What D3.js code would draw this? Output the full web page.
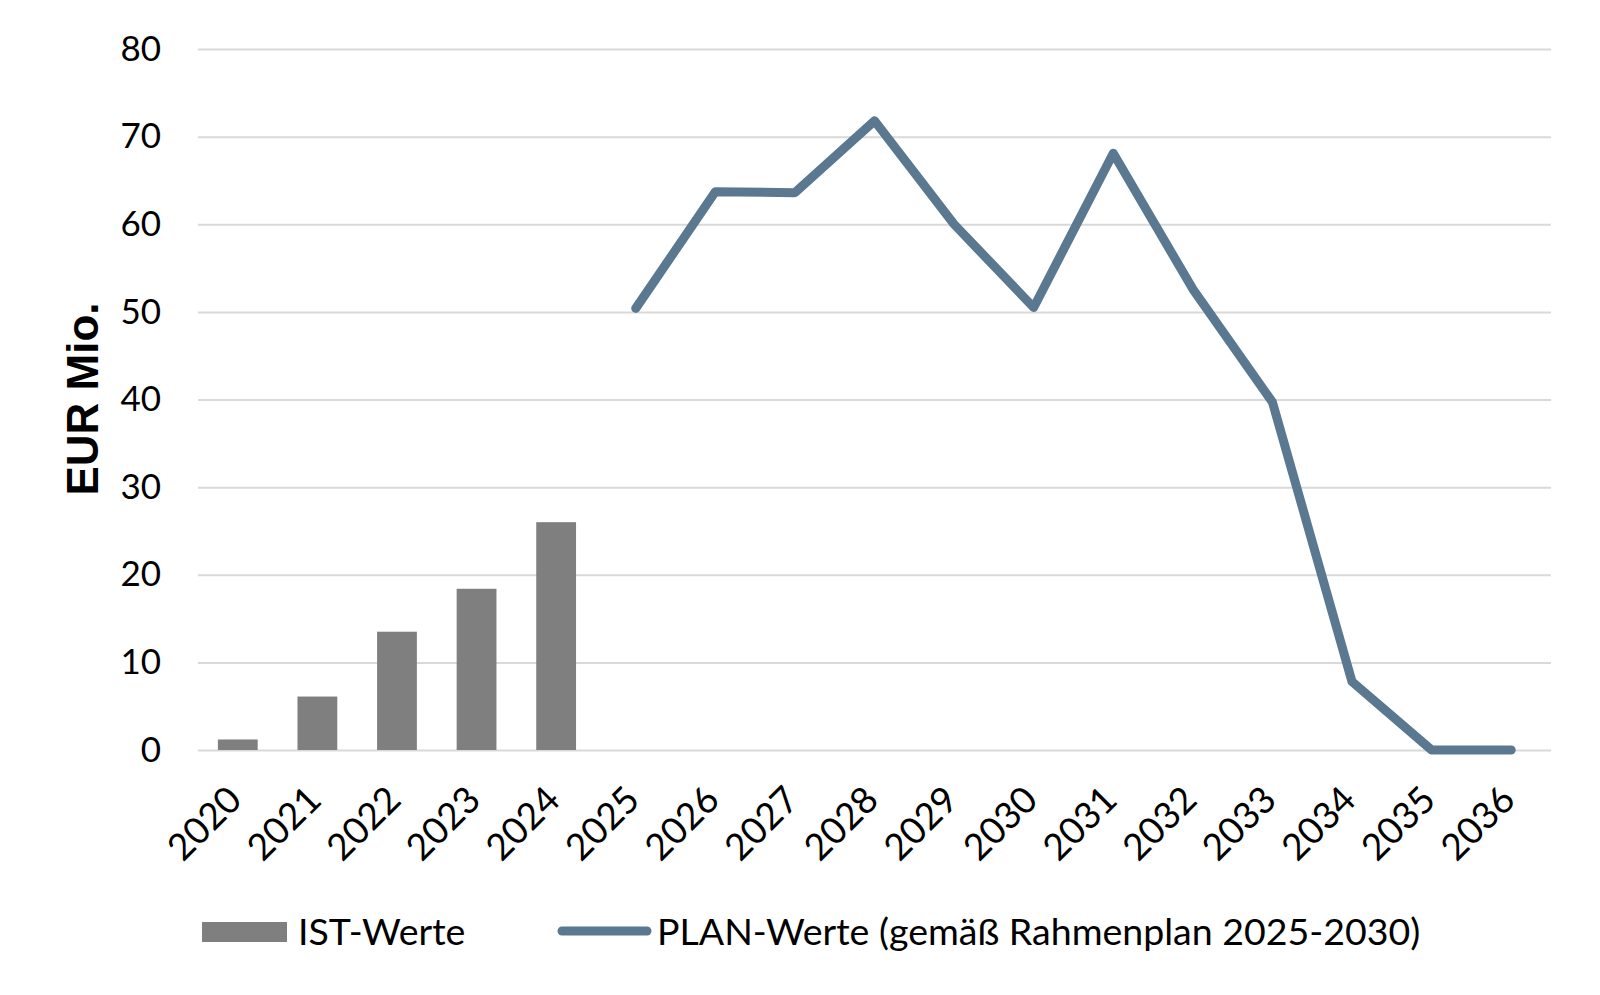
<!DOCTYPE html>
<html>
<head>
<meta charset="utf-8">
<script src="https://cdn.jsdelivr.net/npm/d3@7"></script>
<style>
    body { margin: 0; background: #fff; }
    svg text { font-family: Lato, "Open Sans", sans-serif; fill: #000; }
</style>
</head>
<body>
<div id="chart"></div>
<script>
// categories (x axis)
const years = ['2020', '2021', '2022', '2023', '2024', '2025', '2026', '2027', '2028',
               '2029', '2030', '2031', '2032', '2033', '2034', '2035', '2036']

// IST-Werte (bars)
const istYears = ['2020', '2021', '2022', '2023', '2024']
const istValues = [1.2, 6.1, 13.5, 18.4, 26.0]

// PLAN-Werte (line)
const planYears = ['2025', '2026', '2027', '2028', '2029', '2030',
                   '2031', '2032', '2033', '2034', '2035', '2036']
const planValues = [50.4, 63.7, 63.6, 71.8, 60.0, 50.5, 68.1, 52.6, 39.7, 7.8, 0, 0]

const yTicks = [0, 10, 20, 30, 40, 50, 60, 70, 80]
const legendLabels = ['IST-Werte', 'PLAN-Werte (gemäß Rahmenplan 2025-2030)']

const barColor = '#7f7f7f'
const lineColor = '#5a7890'
const gridColor = '#d9d9d9'

const W = 1600, H = 995
const dim = {l: 198, r: 1551, t: 49, b: 750}

const svg = d3.select('#chart').append('svg')
    .attr('width', W).attr('height', H)

const x = d3.scaleBand().domain(years).range([dim.l, dim.r])
    .paddingInner(0.5).paddingOuter(0.25)
const y = d3.scaleLinear().domain([0, 80]).range([dim.b, dim.t])

// gridlines + y labels
const yAxis = svg.append('g').attr('class', 'y axis')
    .attr('transform', 'translate(' + dim.l + ',0)')
    .call(d3.axisLeft(y).tickValues(yTicks).tickSize(-(dim.r - dim.l)).tickPadding(37))
yAxis.select('.domain').remove()
yAxis.selectAll('.tick line').attr('stroke', gridColor).attr('stroke-width', 2)
yAxis.selectAll('.tick text')
    .attr('font-size', 35).attr('fill', '#000')
    .style('font-family', 'Lato, sans-serif')

// y title
svg.append('text')
    .attr('transform', 'translate(98,399) rotate(-90)')
    .attr('text-anchor', 'middle')
    .attr('font-size', 44).attr('font-weight', 'bold')
    .style('font-family', '"Liberation Sans", Arial, sans-serif')
    .text('EUR Mio.')

// x labels, rotated
const xAxis = svg.append('g').attr('class', 'x axis')
    .attr('transform', 'translate(0,' + dim.b + ')')
    .call(d3.axisBottom(x).tickSize(0).tickPadding(0))
xAxis.select('.domain').remove()
// put each tick at the band start, then offset the label to the band centre
xAxis.selectAll('.tick').attr('transform', d => 'translate(' + x(d) + ',0)')
xAxis.selectAll('.tick text')
    .attr('font-size', 37).attr('fill', '#000')
    .style('font-family', 'Lato, sans-serif')
    .attr('text-anchor', 'end')
    .attr('x', 0).attr('y', 0).attr('dy', 0)
    .attr('transform', 'translate(' + (x.bandwidth() / 2 + 6) + ',52) rotate(-45)')

// bars
svg.append('g').selectAll('rect')
    .data(istYears.map((d, i) => [d, istValues[i]]))
    .enter().append('rect')
    .attr('x', d => x(d[0]))
    .attr('y', d => y(d[1]))
    .attr('width', x.bandwidth())
    .attr('height', d => y(0) - y(d[1]))
    .attr('fill', barColor)

// plan line
const line = d3.line()
    .x(d => x(d[0]) + x.bandwidth() / 2)
    .y(d => y(d[1]))
svg.append('path')
    .datum(planYears.map((d, i) => [d, planValues[i]]))
    .attr('d', line)
    .attr('fill', 'none')
    .attr('stroke', lineColor)
    .attr('stroke-width', 9)
    .attr('stroke-linecap', 'round')
    .attr('stroke-linejoin', 'round')

// legend
const leg = svg.append('g').attr('class', 'legend')
leg.append('rect')
    .attr('x', 202).attr('y', 922).attr('width', 85).attr('height', 20)
    .attr('fill', barColor)
leg.append('text')
    .attr('x', 298).attr('y', 945)
    .attr('font-size', 37.5)
    .text(legendLabels[0])
leg.append('line')
    .attr('x1', 562).attr('x2', 647).attr('y1', 931).attr('y2', 931)
    .attr('stroke', lineColor).attr('stroke-width', 9)
    .attr('stroke-linecap', 'round')
leg.append('text')
    .attr('x', 657).attr('y', 945)
    .attr('font-size', 37.5)
    .text(legendLabels[1])
</script>
</body>
</html>
